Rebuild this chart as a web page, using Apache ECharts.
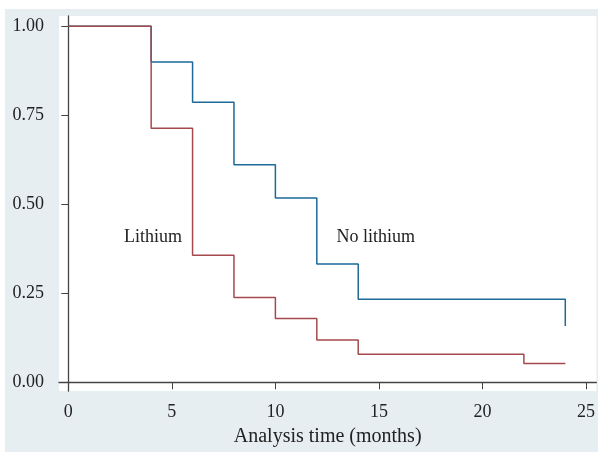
<!DOCTYPE html>
<html>
<head>
<meta charset="utf-8">
<script src="https://cdn.jsdelivr.net/npm/echarts@6/dist/echarts.min.js"></script>
<style>
  html, body { margin: 0; padding: 0; background: #fff; }
  #main { position: absolute; left: 5px; top: 9px; width: 593px; height: 443px; background: #e7eef2; }
</style>
</head>
<body>
<div id="main"></div>
<script>
// survival estimates (step changes), months
const noLithiumTime = [0, 4, 6, 8, 10, 12, 14, 24]
const noLithiumSurv = [1, 0.9, 0.787, 0.611, 0.518, 0.332, 0.233, 0.158]
const lithiumTime = [0, 4, 6, 8, 10, 12, 14, 22, 24]
const lithiumSurv = [1, 0.714, 0.357, 0.238, 0.179, 0.119, 0.079, 0.053, 0.053]
const xTicks = [0, 5, 10, 15, 20, 25]
const yTicks = [0, 0.25, 0.5, 0.75, 1]

const font = 'Liberation Serif'
const zip = (a, b) => a.map((t, i) => [t, b[i]])

const chart = echarts.init(document.getElementById('main'))
chart.setOption({
  animation: false,
  textStyle: { fontFamily: font },
  grid: {
    left: 54, top: 7, right: 1, bottom: 61,
    show: true, backgroundColor: '#fff', borderWidth: 0
  },
  xAxis: {
    type: 'value',
    min: -0.45,
    max: 25.5,
    name: 'Analysis time (months)',
    nameLocation: 'middle',
    nameGap: 36,
    nameTextStyle: { fontFamily: font, fontSize: 20, color: '#222' },
    axisLine: { lineStyle: { color: '#444', width: 1.3 } },
    axisTick: { show: true, length: 7, customValues: xTicks, lineStyle: { color: '#444' } },
    axisLabel: { customValues: xTicks, fontFamily: font, fontSize: 18, color: '#222', margin: 12 },
    splitLine: { show: false }
  },
  yAxis: {
    type: 'value',
    min: -0.0245,
    max: 1.029,
    axisLine: { show: true, lineStyle: { color: '#444', width: 1.3 } },
    axisTick: { show: true, length: 7, customValues: yTicks, lineStyle: { color: '#444' } },
    axisLabel: {
      customValues: yTicks, fontFamily: font, fontSize: 18, color: '#222', margin: 15,
      formatter: v => v.toFixed(2)
    },
    splitLine: { show: false }
  },
  series: [
    {
      name: 'No lithium',
      type: 'line',
      step: 'end',
      symbol: 'none',
      data: zip(noLithiumTime, noLithiumSurv),
      lineStyle: { color: '#1d6a96', width: 1.5 },
      markPoint: {
        symbol: 'circle', symbolSize: 0,
        label: { show: true, formatter: 'No lithium', fontFamily: font, fontSize: 18, color: '#222' },
        data: [{ coord: [14.85, 0.408] }]
      }
    },
    {
      name: 'Lithium',
      type: 'line',
      step: 'end',
      symbol: 'none',
      data: zip(lithiumTime, lithiumSurv),
      lineStyle: { color: '#a44a4e', width: 1.5 },
      markPoint: {
        symbol: 'circle', symbolSize: 0,
        label: { show: true, formatter: 'Lithium', fontFamily: font, fontSize: 18, color: '#222' },
        data: [{ coord: [4.09, 0.408] }]
      }
    }
  ]
})
</script>
</body>
</html>
